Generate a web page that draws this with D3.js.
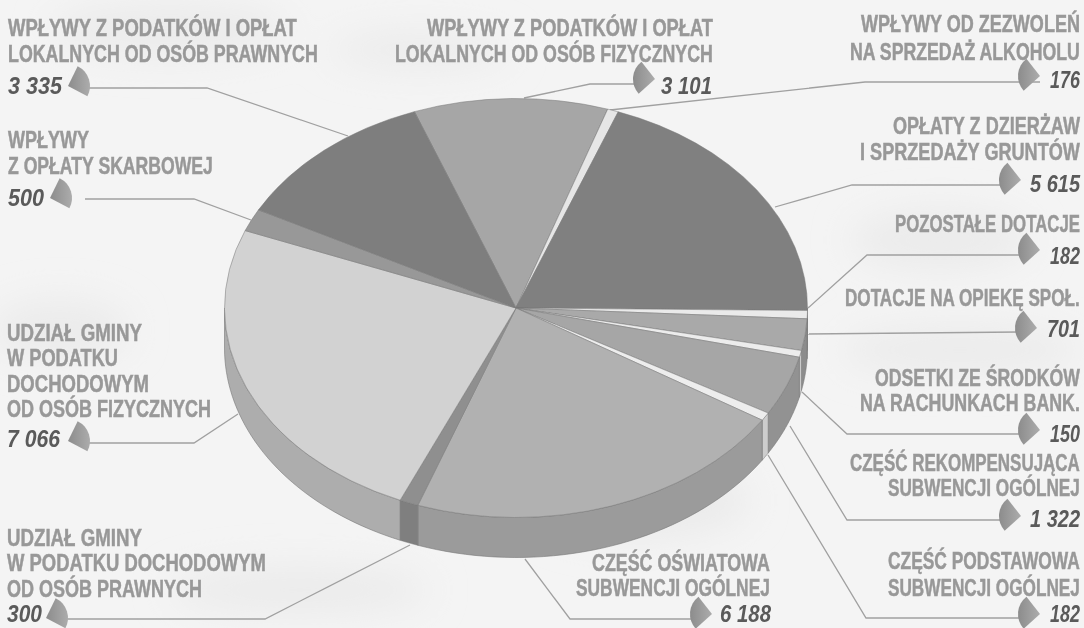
<!DOCTYPE html>
<html><head><meta charset="utf-8">
<style>html,body{margin:0;padding:0;background:#f3f3f3}svg{display:block}</style>
<script src="https://cdn.jsdelivr.net/npm/d3@7/dist/d3.min.js"></script>
</head><body><svg id="c" width="1084" height="628"></svg>
<script>
// ---- data, in pie order (clockwise) ----
const categories = [
 ["WPŁYWY Z PODATKÓW I OPŁAT","LOKALNYCH OD OSÓB FIZYCZNYCH"],
 ["WPŁYWY OD ZEZWOLEŃ","NA SPRZEDAŻ ALKOHOLU"],
 ["OPŁATY Z DZIERŻAW","I SPRZEDAŻY GRUNTÓW"],
 ["POZOSTAŁE DOTACJE"],
 ["DOTACJE NA OPIEKĘ SPOŁ."],
 ["ODSETKI ZE ŚRODKÓW","NA RACHUNKACH BANK."],
 ["CZĘŚĆ REKOMPENSUJĄCA","SUBWENCJI OGÓLNEJ"],
 ["CZĘŚĆ PODSTAWOWA","SUBWENCJI OGÓLNEJ"],
 ["CZĘŚĆ OŚWIATOWA","SUBWENCJI OGÓLNEJ"],
 ["UDZIAŁ GMINY","W PODATKU DOCHODOWYM","OD OSÓB PRAWNYCH"],
 ["UDZIAŁ GMINY","W PODATKU","DOCHODOWYM","OD OSÓB FIZYCZNYCH"],
 ["WPŁYWY","Z OPŁATY SKARBOWEJ"],
 ["WPŁYWY Z PODATKÓW I OPŁAT","LOKALNYCH OD OSÓB PRAWNYCH"]
];
const values = [3101,176,5615,182,701,150,1322,182,6188,300,7066,500,3335];
const valueLabels = ["3 101","176","5 615","182","701","150","1 322","182","6 188","300","7 066","500","3 335"];
const topColors  = ["#a6a6a6","#e6e6e6","#808080","#eaeaea","#a9a9a9","#ececec","#a6a6a6","#ededed","#b1b1b1","#8f8f8f","#d2d2d2","#989898","#7e7e7e"];
const sideColors = ["#888","#ccc","#707070","#d0d0d0","#8c8c8c","#cfcfcf","#929292","#cdcdcd","#9b9b9b","#7f7f7f","#adadad","#888","#707070"];

// ---- page layout for the callouts ----
const textBoxes = [ // per category: per line [left, right, baseline]
 [[427,713,36],[395,713,62]],
 [[861,1080,32],[850,1080,60]],
 [[893,1080,134],[860,1080,160]],
 [[895,1080,232]],
 [[845,1080,306]],
 [[875,1080,386],[860,1080,411]],
 [[850,1080,471],[888,1080,496]],
 [[888,1080,569],[888,1080,596]],
 [[592,770,571],[576,770,596]],
 [[7,142,546],[7,266,571],[7,202,597]],
 [[7,142,341],[7,118,366],[7,149,392],[7,211,417]],
 [[8,89,148],[8,213,174]],
 [[8,297,36],[8,318,62]]
];
const valueBoxes = [[661,712,94],[1050,1080,88],[1030,1080,192],[1050,1080,264],[1047,1080,337],[1050,1080,442],[1030,1080,527],[1050,1080,622],[720,771,622],[7,42,622],[7,60,447],[8,44,206],[8,62,94]];
const markerApex = [[655,79],[1040,76],[1021,180],[1040,250],[1037,328],[1040,430],[1021,516],[1040,614],[712,614],[46,618],[68,441],[50,198],[68,86]];
const leaders = [
 [[635,84],[590,84],[524,98]],
 [[1040,82],[865,82],[610,110]],
 [[1002,185],[852,185],[775,207]],
 [[1020,255],[867,255],[808,308]],
 [[1019,332],[807,334]],
 [[1022,434],[847,434],[802,392]],
 [[1002,520],[847,520],[790,426]],
 [[1022,618],[866,618],[768,455]],
 [[693,619],[570,619],[525,559]],
 [[65,619],[265,619],[410,545]],
 [[87,443],[194,443],[238,414]],
 [[85,199],[194,199],[251,220]],
 [[88,88],[207,88],[348,136]]
];
const hazeSpots = [[170,30,120,26],[420,50,90,18],[60,330,70,30],[640,500,110,40],[960,350,120,24],[300,590,130,24],[940,240,90,30]];

const cx=516, cy=308, rx=291.5, ry=209.5, depth=40;
const rad=d=>d*Math.PI/180, start=rad(-20.4);

const svg=d3.select("#c");
const defs=svg.append("defs");
defs.append("filter").attr("id","scan").attr("x","-5%").attr("y","-5%").attr("width","110%").attr("height","110%")
  .append("feGaussianBlur").attr("stdDeviation",0.55);
defs.append("filter").attr("id","haze").attr("x","-50%").attr("y","-50%").attr("width","200%").attr("height","200%")
  .append("feGaussianBlur").attr("stdDeviation",18);
const mg=defs.append("linearGradient").attr("id","mk").attr("x1",0).attr("x2",1);
mg.append("stop").attr("offset",0).attr("stop-color","#8c8c8c");
mg.append("stop").attr("offset",1).attr("stop-color","#acacac");

svg.append("rect").attr("width",1084).attr("height",628).attr("fill","#f4f4f4");
svg.append("g").attr("filter","url(#haze)").selectAll("ellipse").data(hazeSpots).join("ellipse")
  .attr("cx",d=>d[0]).attr("cy",d=>d[1]).attr("rx",d=>d[2]).attr("ry",d=>d[3]).attr("fill","#ebebeb");
const root=svg.append("g").attr("filter","url(#scan)");

const pie=d3.pie().sort(null).startAngle(start).endAngle(start+2*Math.PI)(values);
const px=a=>cx+rx*Math.sin(a), py=a=>cy-ry*Math.cos(a);

// leaders beneath the pie
const lineGen=d3.line();
root.append("g").selectAll("path").data(leaders).join("path")
  .attr("d",d=>lineGen(d)).attr("fill","none").attr("stroke","#a0a0a0").attr("stroke-width",1.3);

// outer wall (front half only)
const lo=rad(90), hi=rad(270);
const wall=root.append("g");
pie.forEach((s,i)=>{
  const a0=Math.max(s.startAngle,lo), a1=Math.min(s.endAngle,hi);
  if(a1<=a0) return;
  const as=d3.range(0,41).map(k=>a0+(a1-a0)*k/40);
  const pts=as.map(a=>[px(a),py(a)]).concat(as.slice().reverse().map(a=>[px(a),py(a)+depth]));
  wall.append("path").attr("d",lineGen(pts)+"Z").attr("fill",sideColors[i])
    .attr("stroke","#777").attr("stroke-width",0.6);
});

// top face
const arc=d3.arc().innerRadius(0).outerRadius(rx);
root.append("g").attr("transform",`translate(${cx},${cy}) scale(1,${ry/rx})`)
  .selectAll("path").data(pie).join("path")
  .attr("d",arc).attr("fill",(d,i)=>topColors[i])
  .attr("stroke","#777").attr("stroke-width",0.5).attr("vector-effect","non-scaling-stroke");

// markers
const mLeft=d3.arc().innerRadius(0).outerRadius(22).startAngle(rad(26)).endAngle(rad(118));
const mRight=d3.arc().innerRadius(0).outerRadius(22).startAngle(rad(-132)).endAngle(rad(-38));
root.append("g").selectAll("path").data(markerApex).join("path")
  .attr("transform",d=>`translate(${d[0]},${d[1]})`)
  .attr("d",(d,i)=>(i>=9?mLeft:mRight)())
  .attr("fill","url(#mk)");

// labels: each line squeezed to the width it has in the reference
const labelG=root.append("g").attr("font-family","'Liberation Sans Narrow','Liberation Sans',sans-serif");
function fitted(t,b,fill,italic){
  const n=labelG.append("text").text(t).attr("font-size",24).attr("font-weight",700)
    .attr("font-style",italic?"italic":"normal").attr("fill",fill);
  const w=n.node().getComputedTextLength();
  n.attr("transform",`translate(${b[0]},${b[2]}) scale(${(b[1]-b[0])/w},1)`);
  return n;
}
categories.forEach((lines,i)=>{
  lines.forEach((t,j)=>{
    fitted(t,textBoxes[i][j],"#989898",false).attr("stroke","#989898").attr("stroke-width",0.5);
  });
  fitted(valueLabels[i],valueBoxes[i],"#5a5a5a",true);
});
</script></body></html>
